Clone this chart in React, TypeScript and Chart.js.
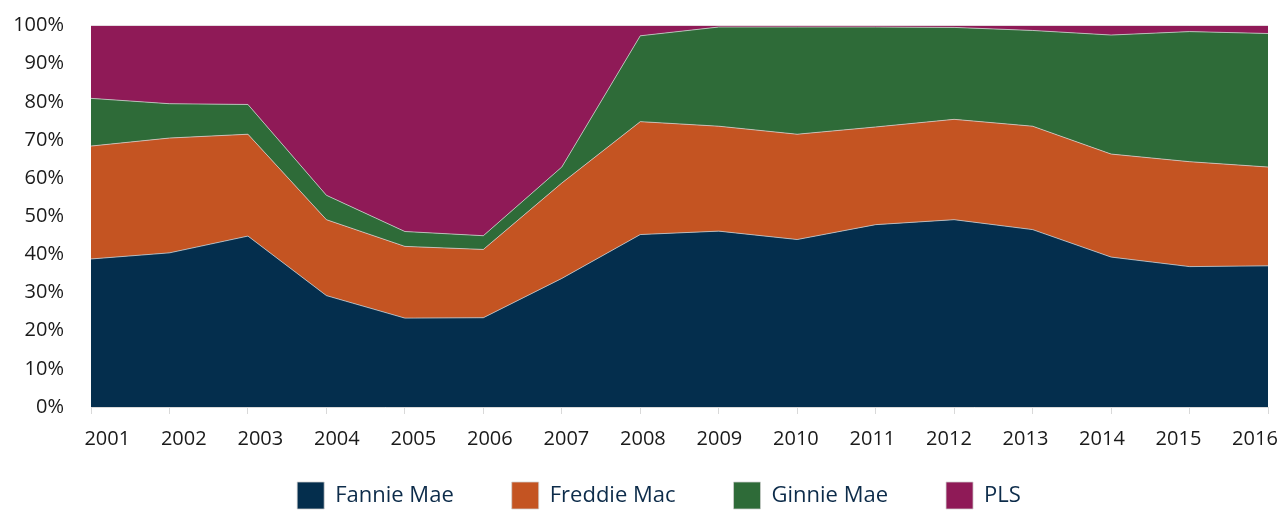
import React, { useEffect, useRef } from "react";
import { Chart, registerables } from "chart.js";

Chart.register(...registerables);

const years = ["2001", "2002", "2003", "2004", "2005", "2006", "2007", "2008", "2009", "2010", "2011", "2012", "2013", "2014", "2015", "2016"];
const fannieMae = [38.8, 40.4, 44.8, 29.2, 23.3, 23.4, 33.7, 45.2, 46.1, 43.9, 47.8, 49.1, 46.5, 39.3, 36.8, 37.0];
const freddieMac = [29.6, 30.1, 26.7, 19.9, 18.8, 17.9, 25.0, 29.6, 27.5, 27.6, 25.6, 26.3, 27.1, 27.0, 27.5, 25.9];
const ginnieMae = [12.5, 9.0, 7.8, 6.4, 3.9, 3.6, 4.2, 22.5, 26.0, 28.1, 26.2, 24.1, 25.1, 31.2, 34.1, 35.0];
const pls = [19.1, 20.5, 20.7, 44.5, 54.0, 55.1, 37.1, 2.7, 0.4, 0.4, 0.4, 0.5, 1.3, 2.5, 1.6, 2.1];

const seriesNames = ["Fannie Mae", "Freddie Mac", "Ginnie Mae", "PLS"];
const seriesColors = ["#042E4D", "#C45422", "#2E6B38", "#8F1A57"];
const seriesData = [fannieMae, freddieMac, ginnieMae, pls];

const FONT = "'Open Sans', 'Noto Sans', sans-serif";

// moves the legend row to where the reference has it
const legendShift = {
  id: "legendShift",
  afterLayout(chart: any) {
    const l = chart.legend;
    if (!l) return;
    const dx = 25;
    l.left += dx;
    l.right += dx;
    l.top = 482 - l.options.labels.padding;
    l.bottom = chart.height;
  },
};

export default function App() {
  const ref = useRef<HTMLCanvasElement | null>(null);

  useEffect(() => {
    if (!ref.current) return;
    const chart = new Chart(ref.current, {
      type: "line",
      data: {
        labels: years,
        datasets: seriesData.map((d, i) => ({
          label: seriesNames[i],
          data: d,
          backgroundColor: seriesColors[i],
          borderColor: "rgba(210,210,210,0.75)",
          borderWidth: 1,
          pointRadius: 0,
          pointHoverRadius: 0,
          tension: 0,
          fill: i === 0 ? "origin" : "-1",
        })),
      },
      plugins: [legendShift],
      options: {
        animation: false,
        responsive: true,
        maintainAspectRatio: false,
        layout: { padding: { top: 25.5, right: 16, left: 0, bottom: 0 } },
        plugins: {
          tooltip: { enabled: false },
          legend: {
            position: "bottom",
            maxHeight: 46,
            labels: {
              boxWidth: 27,
              boxHeight: 27,
              padding: 58,
              color: "#0D2C4A",
              font: { family: FONT, size: 22 },
            },
          },
        },
        scales: {
          x: {
            type: "category",
            position: "bottom",
            offset: false,
            weight: 0,
            grid: {
              display: true,
              drawOnChartArea: false,
              drawTicks: true,
              tickLength: 7,
              color: "#d9d9d9",
            },
            border: { display: true, color: "#d9d9d9" },
            ticks: { display: false },
          },
          xLabels: {
            type: "linear",
            position: "bottom",
            weight: 1,
            min: -0.213,
            max: 15.17,
            grid: { display: false, drawTicks: false },
            border: { display: false },
            afterFit: (s: any) => {
              s.paddingLeft = 0;
              s.paddingRight = 0;
            },
            ticks: {
              stepSize: 1,
              includeBounds: false,
              autoSkip: false,
              maxRotation: 0,
              padding: 13,
              color: "#1a1a1a",
              font: { family: FONT, size: 20 },
              callback: (v: any) => {
                const n = Math.round(Number(v));
                return Math.abs(n - Number(v)) < 1e-6 && years[n] ? years[n] : "";
              },
            },
          },
          y: {
            stacked: true,
            min: 0,
            max: 100,
            grid: { display: false, drawTicks: false },
            border: { display: false },
            afterFit: (s: any) => {
              s.width = 91;
              s.paddingTop = 0;
              s.paddingBottom = 0;
            },
            ticks: {
              stepSize: 10,
              padding: 27,
              color: "#1a1a1a",
              font: { family: FONT, size: 20 },
              callback: (v: any) => `${v}%`,
            },
          },
        },
      },
    });
    return () => chart.destroy();
  }, []);

  return (
    <div style={{ position: "fixed", left: 0, top: 0, width: 1284, height: 510, background: "#fff" }}>
      <canvas ref={ref} />
    </div>
  );
}
